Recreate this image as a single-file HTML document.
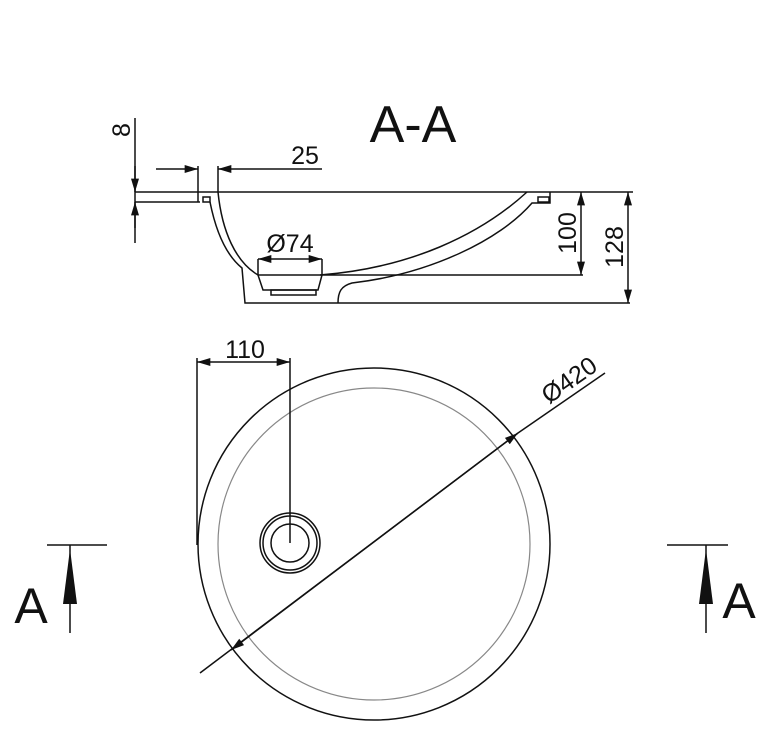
<!DOCTYPE html>
<html><head><meta charset="utf-8"><style>
html,body{margin:0;padding:0;background:#fff;}
svg{display:block;}
text{font-family:"Liberation Sans","DejaVu Sans",sans-serif;fill:#111;}
</style></head><body>
<svg width="766" height="736" viewBox="0 0 766 736" xmlns="http://www.w3.org/2000/svg">
<defs>
<marker id="ar" viewBox="0 0 10 6" refX="10" refY="3" markerWidth="20" markerHeight="8" markerUnits="userSpaceOnUse" orient="auto"><path d="M0,0 L10,3 L0,6 z" fill="#111"/></marker>
</defs>
<g stroke="#111" stroke-width="1.5" fill="none">
<line x1="135" y1="192" x2="633" y2="192"/>
<line x1="135" y1="202" x2="200" y2="202"/>
<line x1="198" y1="166" x2="198" y2="202"/>
<line x1="218" y1="166" x2="218" y2="192"/>
<rect x="203" y="197" width="7" height="5"/>
<path d="M210,202 C216,232 226,255 242,268 L245,303 L630,303"/>
<path d="M218,192 C222,232 236,262 258,275"/>
<line x1="258" y1="275" x2="583" y2="275"/>
<path d="M320,275 C410,268 480,235 527,192"/>
<path d="M338,303 C338,292 341,286 352,283 C430,274 500,240 532,203 L550,203 L550,192"/>
<rect x="538" y="197" width="11" height="5"/>
<path d="M258,259 L258,275 L263,290 L318,290 L322,275 L322,259"/>
<rect x="271" y="290" width="45" height="5"/>
<line x1="135" y1="118" x2="135" y2="243"/>
<line x1="156" y1="169" x2="198" y2="169" marker-end="url(#ar)"/>
<line x1="322" y1="169" x2="218" y2="169" marker-end="url(#ar)"/>
<line x1="135" y1="166" x2="135" y2="192" marker-end="url(#ar)"/>
<line x1="135" y1="228" x2="135" y2="202" marker-end="url(#ar)"/>
<line x1="290" y1="259" x2="258" y2="259" marker-end="url(#ar)"/>
<line x1="290" y1="259" x2="322" y2="259" marker-end="url(#ar)"/>
<line x1="581" y1="233" x2="581" y2="192" marker-end="url(#ar)"/>
<line x1="581" y1="233" x2="581" y2="275" marker-end="url(#ar)"/>
<line x1="628" y1="247" x2="628" y2="192" marker-end="url(#ar)"/>
<line x1="628" y1="247" x2="628" y2="303" marker-end="url(#ar)"/>
<circle cx="374" cy="544" r="176"/>
<circle cx="374" cy="544" r="156" stroke="#888" stroke-width="1.2"/>
<circle cx="290" cy="543" r="30"/>
<circle cx="290" cy="543" r="27"/>
<circle cx="290" cy="543" r="19"/>
<line x1="197" y1="358" x2="197" y2="545"/>
<line x1="290" y1="358" x2="290" y2="543"/>
<line x1="243" y1="362" x2="197" y2="362" marker-end="url(#ar)"/>
<line x1="243" y1="362" x2="290" y2="362" marker-end="url(#ar)"/>
<line x1="200" y1="673" x2="518" y2="433" marker-end="url(#ar)"/>
<line x1="518" y1="433" x2="605" y2="373"/>
<line x1="518" y1="433" x2="231" y2="650" marker-end="url(#ar)"/>
<line x1="47" y1="545" x2="107" y2="545"/>
<line x1="70" y1="545" x2="70" y2="633"/>
<line x1="667" y1="545" x2="728" y2="545"/>
<line x1="706" y1="545" x2="706" y2="633"/>
</g>
<path d="M70,549 L63,604 L77,604 z" fill="#111"/>
<path d="M706,549 L699,604 L713,604 z" fill="#111"/>
<text x="413" y="142" font-size="52" text-anchor="middle">A-A</text>
<text x="305" y="164" font-size="25" text-anchor="middle">25</text>
<text x="290" y="252" font-size="25" text-anchor="middle">Ø74</text>
<text x="245" y="358" font-size="25" text-anchor="middle">110</text>
<text transform="translate(130,130) rotate(-90)" font-size="25" text-anchor="middle">8</text>
<text transform="translate(576,233) rotate(-90)" font-size="25" text-anchor="middle">100</text>
<text transform="translate(623,247) rotate(-90)" font-size="25" text-anchor="middle">128</text>
<text transform="translate(574,387) rotate(-35)" font-size="25" text-anchor="middle">Ø420</text>
<text x="31" y="623" font-size="50" text-anchor="middle">A</text>
<text x="739" y="618" font-size="50" text-anchor="middle">A</text>
</svg>
</body></html>
